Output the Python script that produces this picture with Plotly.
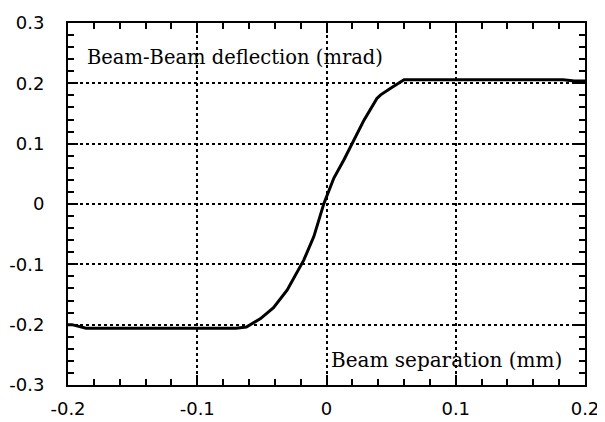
import plotly.graph_objects as go

separation_mm = [-0.2, -0.197, -0.186, -0.15, -0.1, -0.07, -0.062, -0.051, -0.041, -0.0305,
                 -0.0176, -0.0098, -0.002, 0.0057, 0.0134, 0.0212, 0.029, 0.039, 0.0419,
                 0.0496, 0.06, 0.1, 0.15, 0.183, 0.192, 0.2]
deflection_mrad = [-0.2, -0.2, -0.206, -0.206, -0.206, -0.206, -0.204, -0.19, -0.172, -0.143,
                   -0.093, -0.054, 0.001, 0.043, 0.073, 0.106, 0.139, 0.175, 0.181,
                   0.192, 0.206, 0.206, 0.206, 0.206, 0.204, 0.204]

x_ticks = [-0.2, -0.1, 0, 0.1, 0.2]
x_tick_labels = ["-0.2", "-0.1", "0", "0.1", "0.2"]
y_ticks = [-0.3, -0.2, -0.1, 0, 0.1, 0.2, 0.3]
y_tick_labels = ["-0.3", "-0.2", "-0.1", "0", "0.1", "0.2", "0.3"]

y_title = "Beam-Beam deflection (mrad)"
x_title = "Beam separation (mm)"

fig = go.Figure()
fig.add_trace(go.Scatter(x=separation_mm, y=deflection_mrad, mode="lines",
                         line=dict(color="black", width=3), showlegend=False))


def axis_style(rng, vals, labels, standoff):
    return dict(
        range=rng, tickmode="array", tickvals=vals, ticktext=labels,
        automargin=False,
        showline=True, linecolor="black", linewidth=2, mirror="ticks",
        ticks="inside", ticklen=10, tickwidth=2, tickcolor="black",
        showgrid=True, gridcolor="black", gridwidth=1.5, griddash="dot",
        zeroline=False, ticklabelstandoff=standoff,
        tickfont=dict(family="DejaVu Sans, sans-serif", size=18, color="black"),
        minor=dict(ticks="inside", ticklen=6, tickwidth=2, tickcolor="black",
                   dtick=0.02, tick0=0, showgrid=False),
    )


fig.update_layout(
    xaxis=axis_style([-0.2, 0.2], x_ticks, x_tick_labels, 6),
    yaxis=axis_style([-0.3, 0.3], y_ticks, y_tick_labels, 18),
)

serif = dict(family="DejaVu Serif, Liberation Serif, serif", color="black")
fig.add_annotation(x=0, y=1, xref="paper", yref="paper", xanchor="left", yanchor="middle",
                   xshift=17, yshift=-34, text=y_title, showarrow=False,
                   font=dict(size=19.5, **serif))
fig.add_annotation(x=1, y=0, xref="paper", yref="paper", xanchor="right", yanchor="middle",
                   xshift=-21, yshift=25, text=x_title, showarrow=False,
                   font=dict(size=20, **serif))

# the page body adds an 8px offset, so the figure is 8px smaller and margins shifted
fig.update_layout(width=597, height=414, margin=dict(l=60, r=20, t=15, b=37),
                  plot_bgcolor="white", paper_bgcolor="white")
fig.write_html("out.html")
